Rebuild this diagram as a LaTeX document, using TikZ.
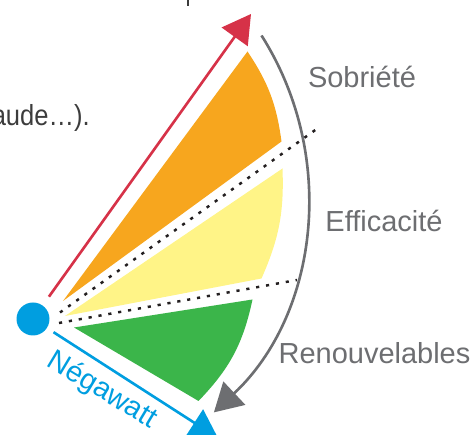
\documentclass[tikz,border=0pt]{standalone}
\usepackage{fontspec}
\setmainfont{Liberation Sans}
\usetikzlibrary{arrows.meta,positioning}
\definecolor{negablue}{RGB}{0,158,224}
\definecolor{sobred}{RGB}{214,50,72}
\definecolor{sobrorange}{RGB}{247,166,30}
\definecolor{effyellow}{RGB}{255,244,135}
\definecolor{renogreen}{RGB}{59,181,74}
\definecolor{arcgray}{RGB}{109,110,113}
\definecolor{dotgray}{RGB}{35,31,32}
\definecolor{bodygray}{RGB}{60,60,60}

\begin{document}
\begin{tikzpicture}[
  lbl/.style={font=\fontsize{16.5}{20}\selectfont, text=arcgray, anchor=base, inner sep=0pt},
  sep/.style={dotgray, line width=1.4pt, dash pattern=on 1.8pt off 3.9pt},
  tip/.style={-{Triangle[length=16pt,width=18pt]}, line width=1.5pt}
]
  \useasboundingbox (-0.66,-2.32) rectangle (8.74,6.38);

  % Draw wedges
  \fill[sobrorange] (0.60,0.36) -- (4.29,5.35) to[bend left=13] (4.97,3.55) -- cycle;
  \fill[effyellow] (0.64,0.06) -- (4.99,3.01) to[bend left=13] (4.57,0.81) -- cycle;
  \fill[renogreen] (0.82,-0.17) -- (4.39,0.39) to[bend left=16] (3.31,-1.64) -- cycle;

  % Draw dotted separators
  \foreach \x/\y/\u/\v in {0.54/0.13/5.66/3.79, 0.52/-0.08/5.28/0.78} {
    \draw[sep] (\x,\y) -- (\u,\v);
  }

  % Draw source dot and arrows
  \node[circle, fill=negablue, minimum size=0.66cm, inner sep=0pt] (src) at (0,0) {};
  \coordinate (redtip) at (4.36,6.10);
  \coordinate (bluetip) at (3.70,-2.38);
  \draw[tip, sobred, shorten <=6pt] (src) -- (redtip);
  \draw[tip, negablue, shorten <=4.3pt] (src) -- (bluetip);
  \node[lbl, text=negablue, rotate=-31] (nega) at (1.30,-1.56) {Négawatt};

  % Draw gray arc
  \coordinate (arcstart) at (4.57,5.67);
  \draw[tip, arcgray] (arcstart) arc[start angle=32.4, end angle=-46.8, radius=5.96];

  % Labels
  \node[lbl] (sob) at (6.58,4.63) {Sobriété};
  \node[lbl] (eff) at (7.02,1.75) {Efficacité};
  \node[lbl] (ren) at (6.83,-0.90) {Renouvelables};
  \node[lbl, text=bodygray, anchor=base east] (prev) at (1.14,3.86) {\scalebox{0.88}[1]{aude…).}};
  \draw[bodygray, line width=1.2pt] (3.10,6.38) -- (3.10,6.26);
\end{tikzpicture}
\end{document}
